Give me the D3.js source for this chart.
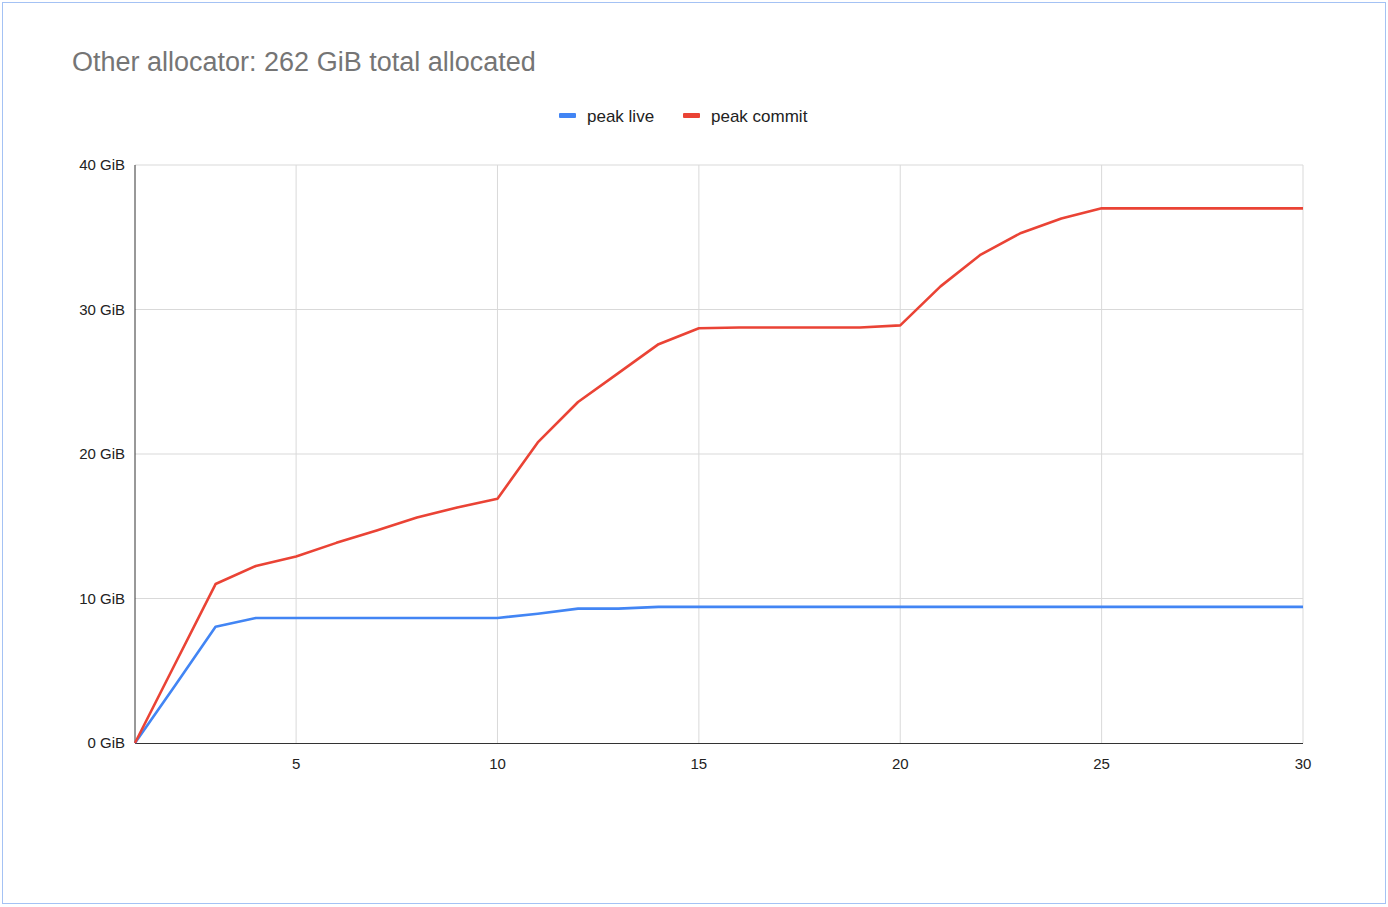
<!DOCTYPE html>
<html><head><meta charset="utf-8">
<script src="https://cdn.jsdelivr.net/npm/d3@7"></script>
<style>body{margin:0;background:#fff;font-family:"Liberation Sans",Arial,sans-serif}</style>
</head><body><svg id="c" width="1388" height="907" font-family="Liberation Sans, Arial, sans-serif"></svg>
<script>
const xs = d3.range(1,31);
const peakCommit = [0,5.5,11.0,12.25,12.9,13.85,14.7,15.6,16.3,16.9,20.8,23.6,25.6,27.6,28.7,28.75,28.75,28.75,28.75,28.9,31.6,33.8,35.3,36.3,37.0,37.0,37.0,37.0,37.0,37.0];
const peakLive = [0,4.0,8.05,8.65,8.65,8.65,8.65,8.65,8.65,8.65,8.95,9.3,9.3,9.42,9.42,9.42,9.42,9.42,9.42,9.42,9.42,9.42,9.42,9.42,9.42,9.42,9.42,9.42,9.42,9.42];
const xTicks = [5,10,15,20,25,30];
const yTicks = [0,10,20,30,40];
const series = [{name:"peak live",color:"#4285f4",vals:peakLive},{name:"peak commit",color:"#ea4335",vals:peakCommit}];

const svg = d3.select("#c");
svg.append("rect").attr("x",2.5).attr("y",2.5).attr("width",1383).attr("height",901).attr("fill","#fff").attr("stroke","#a4c2f4");
svg.append("text").attr("x",72).attr("y",71).attr("font-size",27).attr("fill","#757575").text("Other allocator: 262 GiB total allocated");

const x = d3.scaleLinear().domain([1,30]).range([135,1303]);
const y = d3.scaleLinear().domain([0,40]).range([743,165]);

const g = svg.append("g");
g.selectAll(".vg").data(xTicks).join("line").attr("x1",d=>x(d)).attr("x2",d=>x(d)).attr("y1",165).attr("y2",743).attr("stroke","#d9d9d9");
g.selectAll(".hg").data(yTicks.slice(1)).join("line").attr("x1",135).attr("x2",1303).attr("y1",d=>y(d)).attr("y2",d=>y(d)).attr("stroke","#d9d9d9");
g.append("line").attr("x1",135).attr("x2",135).attr("y1",165).attr("y2",743).attr("stroke","#333");
g.append("line").attr("x1",135).attr("x2",1303).attr("y1",743.5).attr("y2",743.5).attr("stroke","#333");
g.selectAll(".xt").data(xTicks).join("text").attr("x",d=>x(d)).attr("y",769).attr("text-anchor","middle").attr("font-size",15).attr("fill","#222").text(d=>d);
g.selectAll(".yt").data(yTicks).join("text").attr("x",125).attr("y",d=>y(d)+5).attr("text-anchor","end").attr("font-size",15).attr("fill","#222").text(d=>d+" GiB");

const line = d3.line().x((d,i)=>x(xs[i])).y(d=>y(d));
series.forEach(s=>{
  svg.append("path").attr("d",line(s.vals)).attr("fill","none").attr("stroke",s.color).attr("stroke-width",2.6).attr("stroke-linejoin","round");
});

const legX=[559,683];
series.forEach((s,i)=>{
  svg.append("rect").attr("x",legX[i]).attr("y",113).attr("width",17).attr("height",5).attr("rx",1).attr("fill",s.color);
  svg.append("text").attr("x",legX[i]+28).attr("y",122).attr("font-size",17).attr("fill","#222").text(s.name);
});
</script></body></html>
